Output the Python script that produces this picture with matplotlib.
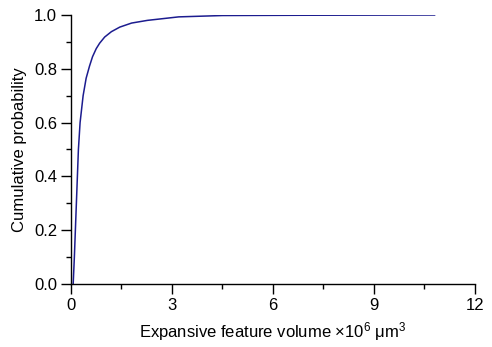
import matplotlib
matplotlib.use('Agg')
import matplotlib.pyplot as plt
from matplotlib.ticker import MultipleLocator

plt.rcParams['font.family'] = ['Liberation Sans', 'DejaVu Sans']
plt.rcParams['mathtext.fontset'] = 'custom'
plt.rcParams['mathtext.rm'] = 'Liberation Sans'
plt.rcParams['mathtext.it'] = 'Liberation Sans:italic'

# cumulative distribution
volume = [0.065, 0.10, 0.13, 0.16, 0.19, 0.22, 0.27, 0.36, 0.45, 0.55, 0.64, 0.75, 0.85,
          1.0, 1.2, 1.45, 1.8, 2.27, 3.2, 4.5, 6.8, 10.8]
cum_prob = [0.0, 0.1, 0.2, 0.3, 0.4, 0.5, 0.6, 0.7, 0.765, 0.81, 0.845, 0.875, 0.895,
            0.918, 0.938, 0.955, 0.97, 0.98, 0.993, 0.998, 0.999, 1.0]

fig = plt.figure(figsize=(4.92, 3.47), dpi=100)
ax = fig.add_axes([0.1443, 0.1816, 0.8211, 0.7752])
ax.plot(volume, cum_prob, color='#1c1c8f', linewidth=1.1)

ax.set_xlim(0, 12)
ax.set_ylim(0, 1.0)
ax.xaxis.set_major_locator(MultipleLocator(3))
ax.xaxis.set_minor_locator(MultipleLocator(1.5))
ax.yaxis.set_major_locator(MultipleLocator(0.2))
ax.yaxis.set_minor_locator(MultipleLocator(0.1))
ax.yaxis.set_major_formatter(plt.FormatStrFormatter('%.1f'))
ax.spines['top'].set_visible(False)
ax.spines['right'].set_visible(False)
for s in ('left', 'bottom'):
    ax.spines[s].set_linewidth(1.0)
ax.tick_params(which='major', direction='out', length=7, width=1.0, labelsize=12, pad=3)
ax.tick_params(which='minor', direction='out', length=3.6, width=1.0)

ax.set_xlabel('Expansive feature volume \u00d710$^{6}$ \u03bcm$^{3}$', fontsize=12, labelpad=5)
ax.set_ylabel('Cumulative probability', fontsize=12, labelpad=5)

fig.savefig('out.png', dpi=100)
